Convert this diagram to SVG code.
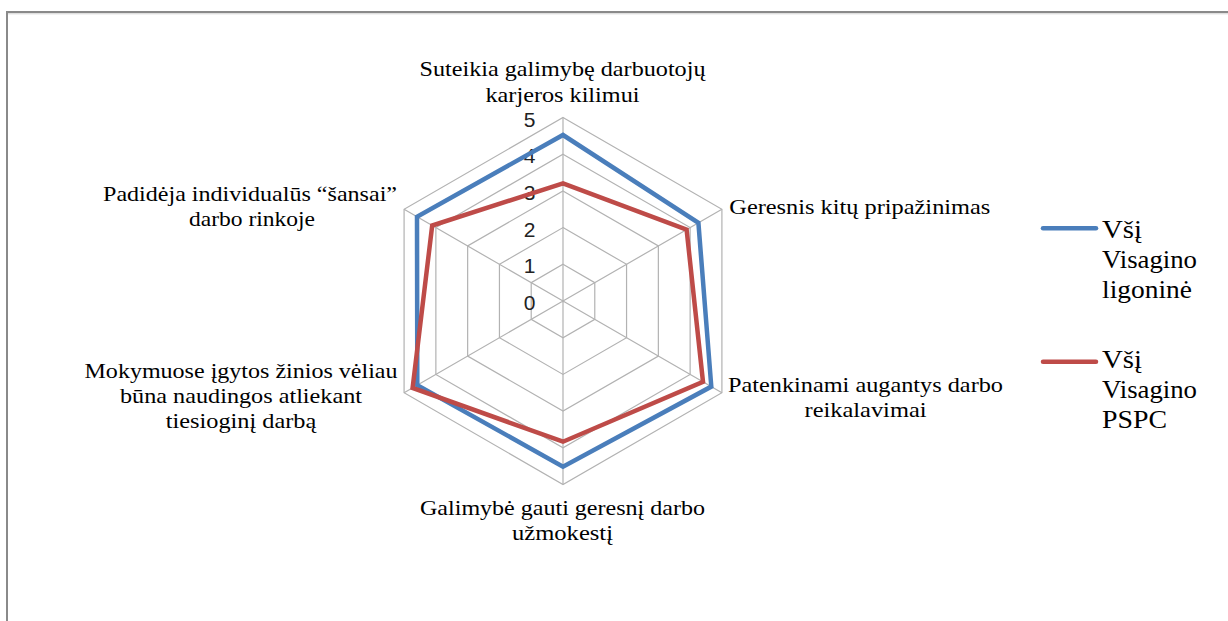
<svg xmlns="http://www.w3.org/2000/svg" width="1228" height="621" viewBox="0 0 1228 621">
  <style>
    .grid { fill: none; stroke: #b2b2b2; stroke-width: 1.2; }
    .series { fill: none; stroke-width: 4.5; stroke-linejoin: miter; }
    .blue { stroke: #4a7ebb; }
    .red { stroke: #be4b48; }
    .cat { font-family: "Liberation Serif", "Times New Roman", serif; font-size: 21.5px; fill: #000; }
    .tick { font-family: "Liberation Sans", Arial, sans-serif; font-size: 21px; fill: #222; text-anchor: middle; }
    .leg { font-family: "Liberation Serif", "Times New Roman", serif; font-size: 26px; fill: #000; }
    .mid { text-anchor: middle; }
  </style>

  <rect width="1228" height="621" fill="#ffffff"/>

  <!-- chart frame -->
  <path d="M7,621 V12 H1228" fill="none" stroke="#8a8a8a" stroke-width="2"/>
  <line x1="8" y1="13.8" x2="1228" y2="13.8" stroke="#d2d2d2" stroke-width="1"/>

  <!-- radar grid: rings 1..5 and spokes, centre (563,301), 36.7 px per unit -->
  <g id="grid">
    <polygon class="grid" points="563,264.3 594.78,282.65 594.78,319.35 563,337.7 531.22,319.35 531.22,282.65"/>
    <polygon class="grid" points="563,227.6 626.56,264.3 626.56,337.7 563,374.4 499.44,337.7 499.44,264.3"/>
    <polygon class="grid" points="563,190.9 658.35,245.95 658.35,356.05 563,411.1 467.65,356.05 467.65,245.95"/>
    <polygon class="grid" points="563,154.2 690.13,227.6 690.13,374.4 563,447.8 435.87,374.4 435.87,227.6"/>
    <polygon class="grid" points="563,117.5 721.91,209.25 721.91,392.75 563,484.5 404.09,392.75 404.09,209.25"/>
    <path class="grid" d="M563,301 V117.5 M563,301 L721.91,209.25 M563,301 L721.91,392.75 M563,301 V484.5 M563,301 L404.09,392.75 M563,301 L404.09,209.25"/>
  </g>

  <!-- axis scale -->
  <g id="scale">
    <text class="tick" x="529.5" y="310">0</text>
    <text class="tick" x="529.5" y="273.3">1</text>
    <text class="tick" x="529.5" y="236.6">2</text>
    <text class="tick" x="529.5" y="199.9">3</text>
    <text class="tick" x="529.5" y="163.2">4</text>
    <text class="tick" x="529.5" y="126.5">5</text>
  </g>

  <!-- data series -->
  <g id="series">
    <polygon id="series-ligonine" class="series blue" points="563,135 698.4,222.8 711.3,386.6 563,466.7 417.3,385.1 417,216.7"/>
    <polygon id="series-pspc" class="series red" points="563,183.3 686.6,229.6 703,381.9 563,441.7 412.6,387.9 432.2,225.5"/>
  </g>

  <!-- category labels -->
  <g id="label-top">
    <text class="cat mid" x="562.5" y="76" textLength="286" lengthAdjust="spacingAndGlyphs">Suteikia galimybę darbuotojų</text>
    <text class="cat mid" x="562.5" y="101.5" textLength="154" lengthAdjust="spacingAndGlyphs">karjeros kilimui</text>
  </g>
  <g id="label-upper-right">
    <text class="cat" x="729.3" y="214" textLength="261" lengthAdjust="spacingAndGlyphs">Geresnis kitų pripažinimas</text>
  </g>
  <g id="label-lower-right">
    <text class="cat mid" x="865.5" y="391.5" textLength="275" lengthAdjust="spacingAndGlyphs">Patenkinami augantys darbo</text>
    <text class="cat mid" x="865.5" y="417" textLength="122" lengthAdjust="spacingAndGlyphs">reikalavimai</text>
  </g>
  <g id="label-bottom">
    <text class="cat mid" x="562.5" y="515" textLength="285" lengthAdjust="spacingAndGlyphs">Galimybė gauti geresnį darbo</text>
    <text class="cat mid" x="562.5" y="539.5" textLength="101" lengthAdjust="spacingAndGlyphs">užmokestį</text>
  </g>
  <g id="label-lower-left">
    <text class="cat mid" x="241" y="378.3" textLength="313" lengthAdjust="spacingAndGlyphs">Mokymuose įgytos žinios vėliau</text>
    <text class="cat mid" x="241" y="403.3" textLength="242" lengthAdjust="spacingAndGlyphs">būna naudingos atliekant</text>
    <text class="cat mid" x="241" y="428.3" textLength="150.5" lengthAdjust="spacingAndGlyphs">tiesioginį darbą</text>
  </g>
  <g id="label-upper-left">
    <text class="cat mid" x="250" y="200.7" textLength="294" lengthAdjust="spacingAndGlyphs">Padidėja individualūs “šansai”</text>
    <text class="cat mid" x="252" y="226" textLength="126" lengthAdjust="spacingAndGlyphs">darbo rinkoje</text>
  </g>

  <!-- legend -->
  <g id="legend-ligonine">
    <line x1="1043" y1="228.3" x2="1096" y2="228.3" stroke="#4a7ebb" stroke-width="4.5" stroke-linecap="round"/>
    <text class="leg" x="1102" y="238.3" textLength="40" lengthAdjust="spacingAndGlyphs">Všį</text>
    <text class="leg" x="1102" y="268.3" textLength="95" lengthAdjust="spacingAndGlyphs">Visagino</text>
    <text class="leg" x="1102" y="298.3" textLength="90" lengthAdjust="spacingAndGlyphs">ligoninė</text>
  </g>
  <g id="legend-pspc">
    <line x1="1043" y1="361.7" x2="1096" y2="361.7" stroke="#be4b48" stroke-width="4.5" stroke-linecap="round"/>
    <text class="leg" x="1102" y="368.3" textLength="40" lengthAdjust="spacingAndGlyphs">Všį</text>
    <text class="leg" x="1102" y="398.3" textLength="95" lengthAdjust="spacingAndGlyphs">Visagino</text>
    <text class="leg" x="1102" y="428.3" textLength="65" lengthAdjust="spacingAndGlyphs">PSPC</text>
  </g>
</svg>
